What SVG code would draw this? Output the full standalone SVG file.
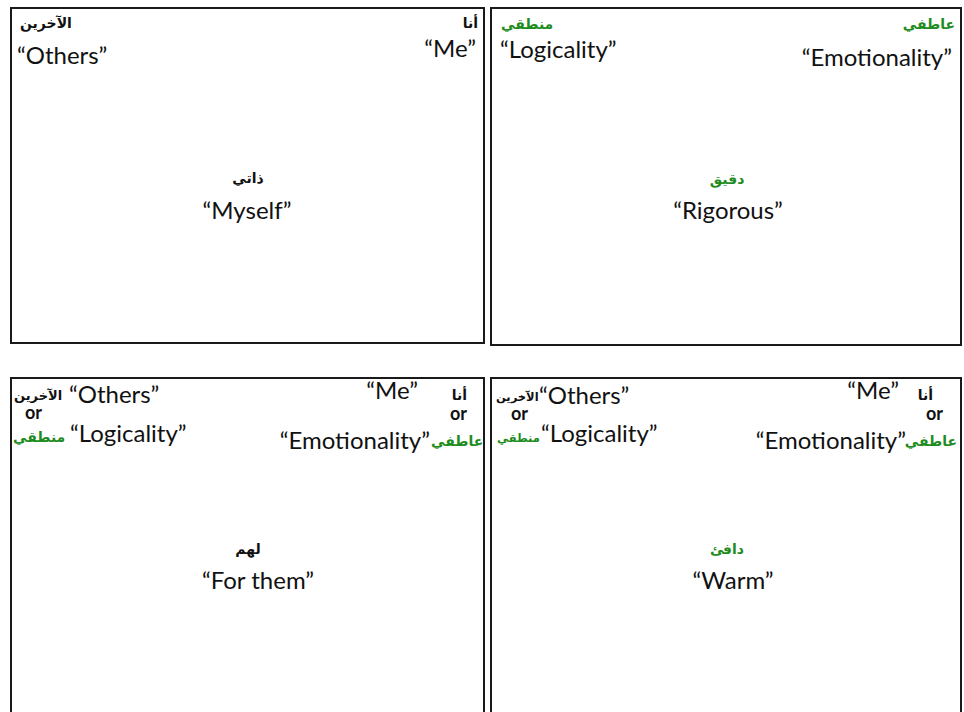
<svg xmlns="http://www.w3.org/2000/svg" width="964" height="712" viewBox="0 0 964 712">
<style>
.box{fill:#fff;stroke:#1a1a1a;stroke-width:2}
.en{font-family:Lato,"Liberation Sans",sans-serif;font-size:24px;fill:#111}
.ar{font-family:"DejaVu Sans","Noto Sans",sans-serif;font-weight:bold;font-size:14px;fill:#111}
.sm{font-size:11.5px}
.g{fill:#1e8c1e}
.or{font-family:Lato,"Liberation Sans",sans-serif;font-weight:bold;font-size:18px;fill:#111}
</style>
<rect width="964" height="712" fill="#fff"/>
<g id="panel-tl">
<rect class="box" x="11" y="8" width="473" height="335"/>
<text class="ar" x="20" y="28">الآخرين</text>
<text class="en" x="17" y="64">“Others”</text>
<text class="ar" x="478" y="28" text-anchor="end">أنا</text>
<text class="en" x="476" y="57" text-anchor="end">“Me”</text>
<text class="ar" x="248" y="183" text-anchor="middle">ذاتي</text>
<text class="en" x="247" y="219" text-anchor="middle">“Myself”</text>
</g>
<g id="panel-tr">
<rect class="box" x="491" y="8" width="470" height="337"/>
<text class="ar g" x="501" y="29">منطقي</text>
<text class="en" x="500" y="58">“Logicality”</text>
<text class="ar g" x="955" y="29" text-anchor="end">عاطفي</text>
<text class="en" x="952" y="66" text-anchor="end">“Emotionality”</text>
<text class="ar g" x="727" y="184" text-anchor="middle">دقيق</text>
<text class="en" x="728" y="219" text-anchor="middle">“Rigorous”</text>
</g>
<g id="panel-bl">
<rect class="box" x="11" y="378" width="473" height="345"/>
<text class="ar" x="14" y="400" style="font-size:13px">الآخرين</text>
<text class="en" x="69" y="403">“Others”</text>
<text class="or" x="25" y="419">or</text>
<text class="ar g" x="13" y="442">منطقي</text>
<text class="en" x="70" y="442">“Logicality”</text>
<text class="en" x="418" y="399" text-anchor="end">“Me”</text>
<text class="ar" x="467" y="400" text-anchor="end">أنا</text>
<text class="or" x="467" y="420" text-anchor="end">or</text>
<text class="en" x="430" y="449" text-anchor="end">“Emotionality”</text>
<text class="ar g" x="431" y="446">عاطفي</text>
<text class="ar" x="248" y="554" text-anchor="middle">لهم</text>
<text class="en" x="258" y="589" text-anchor="middle">“For them”</text>
</g>
<g id="panel-br">
<rect class="box" x="491" y="378" width="470" height="345"/>
<text class="ar sm" x="496" y="401">الآخرين</text>
<text class="en" x="539" y="404">“Others”</text>
<text class="or" x="511" y="420">or</text>
<text class="ar g sm" x="497" y="442">منطقي</text>
<text class="en" x="541" y="442">“Logicality”</text>
<text class="en" x="899" y="399" text-anchor="end">“Me”</text>
<text class="ar" x="933" y="400" text-anchor="end">أنا</text>
<text class="or" x="943" y="420" text-anchor="end">or</text>
<text class="en" x="906" y="449" text-anchor="end">“Emotionality”</text>
<text class="ar g" x="957" y="446" text-anchor="end">عاطفي</text>
<text class="ar g" x="727" y="554" text-anchor="middle">دافئ</text>
<text class="en" x="733" y="589" text-anchor="middle">“Warm”</text>
</g>
<g id="connectors"/>
</svg>
